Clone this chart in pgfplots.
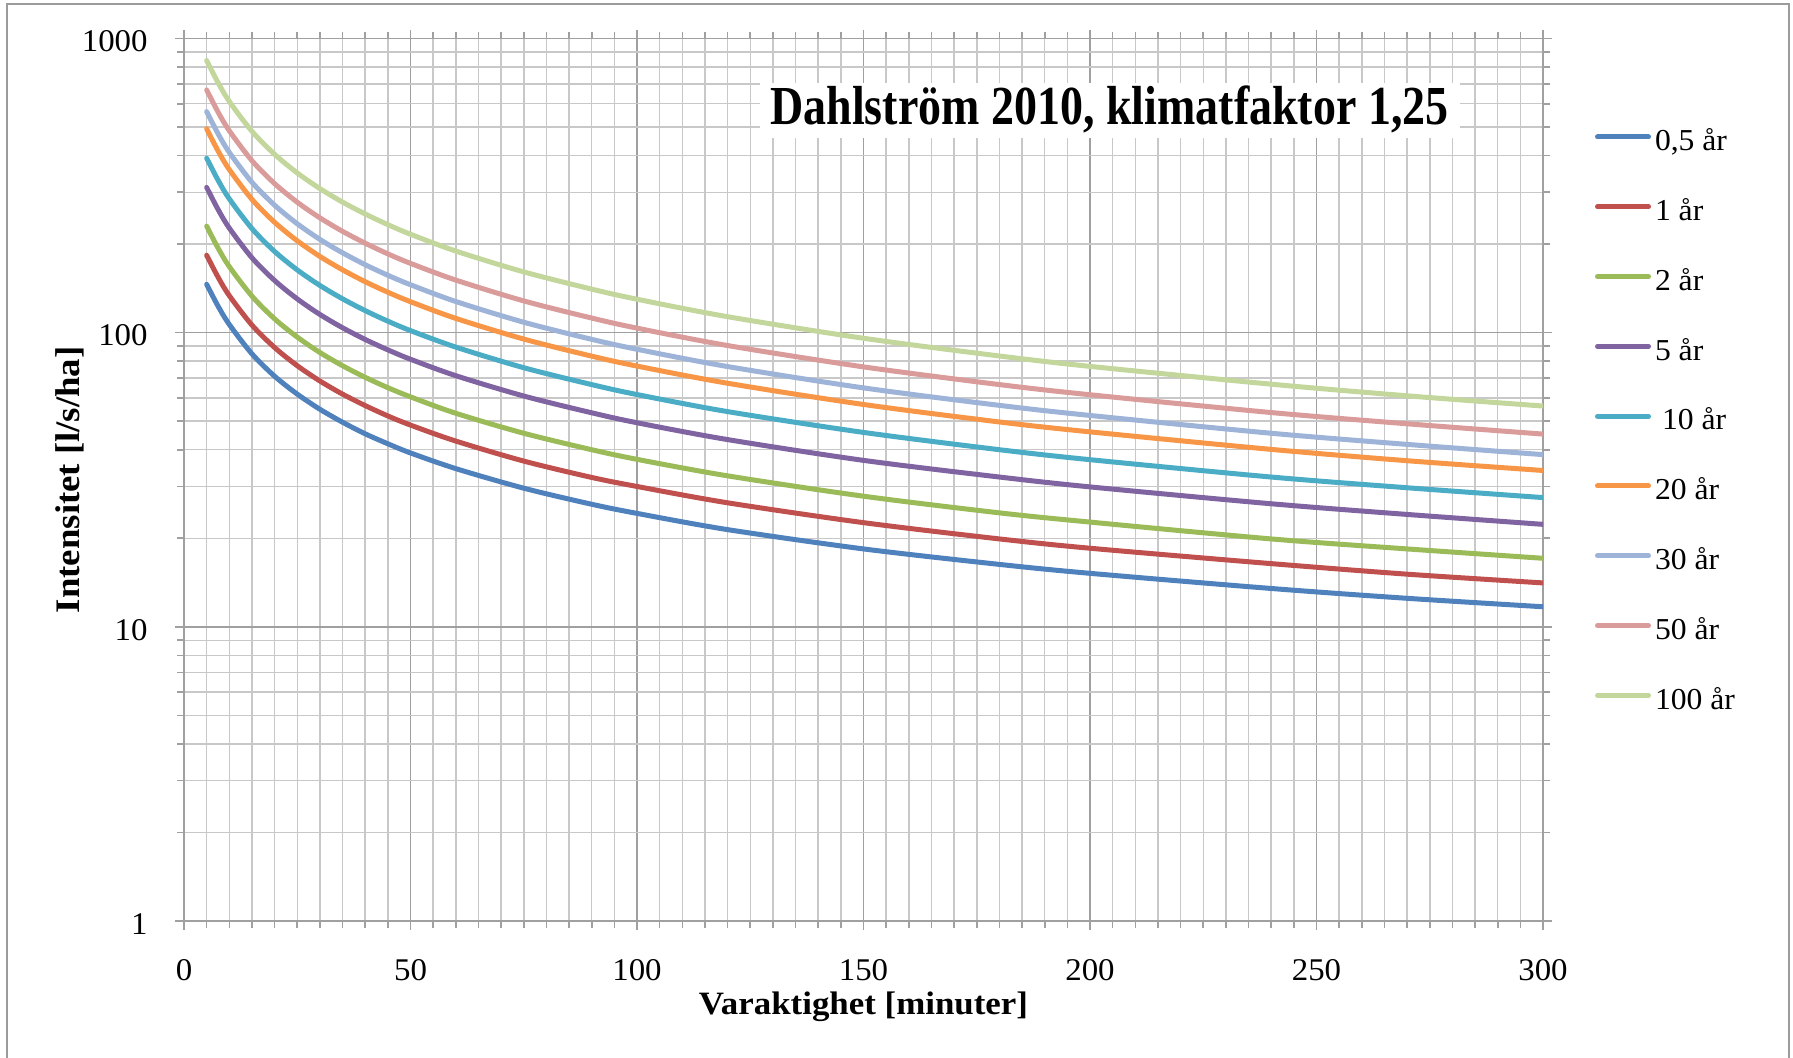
\documentclass[border=0pt]{standalone}
\usepackage{pgfplots}
\pgfplotsset{compat=1.18}
\usepackage{pgfplotstable}
\usepackage{fontspec}
\setmainfont{Liberation Serif}
\newfontfamily\titlefont[FakeStretch=0.836]{Liberation Serif}
\newfontfamily\labelfont[FakeStretch=1.07]{Liberation Serif}
\newfontfamily\tickfont[FakeStretch=1.04]{Liberation Serif}
\definecolor{c05}{HTML}{4F81BD}
\definecolor{c1}{HTML}{C0504D}
\definecolor{c2}{HTML}{9BBB59}
\definecolor{c5}{HTML}{8064A2}
\definecolor{c10}{HTML}{4BACC6}
\definecolor{c20}{HTML}{F79646}
\definecolor{c30}{HTML}{9DB3D7}
\definecolor{c50}{HTML}{D99C9A}
\definecolor{c100}{HTML}{C3D69B}
\definecolor{majg}{RGB}{160,160,160}
\definecolor{ming}{RGB}{200,200,200}
\definecolor{frameg}{RGB}{155,155,155}
\pgfplotstableread{
t s05 s1 s2 s5 s10 s20 s30 s50 s100
5 146.0 183.3 230.2 311.6 391.9 493.1 564.1 668.4 841.5
7.5 123.2 154.6 194.1 262.6 330.2 415.3 475.1 562.8 708.4
10 106.6 133.6 167.7 226.7 285.0 358.4 409.9 485.5 611.0
15 84.7 106.1 133.1 179.7 225.8 283.8 324.5 384.3 483.5
20 71.1 89.0 111.4 150.4 188.8 237.2 271.2 321.1 403.9
25 61.8 77.2 96.6 130.2 163.4 205.2 234.5 277.6 349.1
30 54.9 68.5 85.6 115.3 144.7 181.6 207.5 245.6 308.8
35 49.6 61.8 77.2 103.9 130.3 163.5 186.8 221.0 277.8
40 45.3 56.5 70.5 94.8 118.8 149.0 170.2 201.4 253.1
45 41.9 52.1 65.0 87.4 109.4 137.2 156.7 185.3 232.9
50 39.0 48.5 60.5 81.2 101.6 127.4 145.5 172.0 216.0
60 34.5 42.8 53.2 71.4 89.3 111.8 127.6 150.9 189.4
75 29.6 36.6 45.5 60.9 76.0 95.1 108.5 128.2 160.9
90 26.1 32.2 40.0 53.4 66.6 83.2 94.9 112.1 140.6
100 24.3 30.0 37.1 49.4 61.6 77.0 87.8 103.6 129.9
120 21.4 26.4 32.6 43.3 53.9 67.3 76.7 90.4 113.3
150 18.4 22.6 27.8 36.8 45.8 57.0 64.9 76.5 95.7
180 16.3 19.9 24.4 32.3 40.0 49.7 56.6 66.6 83.3
200 15.2 18.5 22.7 29.9 37.0 46.0 52.3 61.5 76.8
240 13.5 16.4 19.9 26.2 32.3 40.1 45.5 53.5 66.8
270 12.5 15.1 18.4 24.1 29.7 36.7 41.7 49.0 61.0
300 11.7 14.1 17.1 22.3 27.5 34.0 38.5 45.2 56.3
}\datatable
\begin{document}
\begin{tikzpicture}
\useasboundingbox (0,0) rectangle (896.5pt,529pt);
\draw[frameg, line width=1pt] (3.7pt,0pt) -- (3.7pt,526.9pt) -- (894.6pt,526.9pt) -- (894.6pt,0pt);
\begin{axis}[
  at={(92pt,68.5pt)}, anchor=south west,
  scale only axis, width=679.5pt, height=441.25pt,
  ymode=log, xmin=0, xmax=300, ymin=1, ymax=1000,
  xtick={0,50,...,300}, minor x tick num=9,
  ytick={1,10,100,1000}, yticklabels={1,10,100,1000},
  minor ytick={2,3,4,5,6,7,8,9,20,30,40,50,60,70,80,90,200,300,400,500,600,700,800,900},
  grid=both,
  major grid style={majg, line width=0.8pt},
  minor grid style={ming, line width=0.75pt},
  axis line style={majg, line width=0.9pt},
  tick style={majg, line width=0.8pt},
  tick align=outside,
  major tick length=4.5pt, minor tick length=3.5pt,
  x tick label style={font=\tickfont\fontsize{15.8}{18}\selectfont, inner sep=0pt, anchor=north, yshift=-14.5pt},
  y tick label style={font=\tickfont\fontsize{15.8}{18}\selectfont, inner sep=0pt, anchor=east, xshift=-13.5pt, yshift=-1.5pt},
  /pgf/number format/assume math mode=true,
  xticklabel={\pgfmathprintnumber{\tick}},
  xlabel={Varaktighet [minuter]},
  ylabel={Intensitet [l/s/ha]},
  xlabel style={font=\labelfont\bfseries\fontsize{16.3}{20}\selectfont, at={(axis description cs:0.5,-0.10652)}, anchor=base, inner sep=0pt},
  ylabel style={font=\labelfont\bfseries\fontsize{17.2}{20}\selectfont, at={(axis description cs:-0.07726,0.5)}, anchor=base, inner sep=0pt},
  legend style={at={(axis description cs:1.03826,0.9039)}, anchor=north west, draw=none, fill=none,
    inner sep=0pt, outer sep=0pt, row sep=21.2pt, column sep=2pt,
    font=\tickfont\fontsize{15.2}{18}\selectfont,
    nodes={inner sep=0pt, text height=13.7pt, text depth=0pt}},
  legend cell align=left,
  legend image code/.code={\draw[#1, line cap=round] (1.25pt,0pt) -- (26.75pt,0pt);},
  every axis plot/.append style={line width=2.5pt, smooth, line cap=round, line join=round, mark=none},
]
\addplot[c05] table[x=t,y=s05]{\datatable}; \addlegendentry{0,5 år}
\addplot[c1] table[x=t,y=s1]{\datatable}; \addlegendentry{1 år}
\addplot[c2] table[x=t,y=s2]{\datatable}; \addlegendentry{2 år}
\addplot[c5] table[x=t,y=s5]{\datatable}; \addlegendentry{5 år}
\addplot[c10] table[x=t,y=s10]{\datatable}; \addlegendentry{\hspace{3.5pt}10 år}
\addplot[c20] table[x=t,y=s20]{\datatable}; \addlegendentry{20 år}
\addplot[c30] table[x=t,y=s30]{\datatable}; \addlegendentry{30 år}
\addplot[c50] table[x=t,y=s50]{\datatable}; \addlegendentry{50 år}
\addplot[c100] table[x=t,y=s100]{\datatable}; \addlegendentry{100 år}
\end{axis}
\fill[white] (380pt,460pt) rectangle (730pt,487.5pt);
\node[anchor=base west, inner sep=0pt] at (385pt,466.5pt) {\titlefont\bfseries\fontsize{27.5}{30}\selectfont Dahlström 2010, klimatfaktor 1,25};
\end{tikzpicture}
\end{document}
